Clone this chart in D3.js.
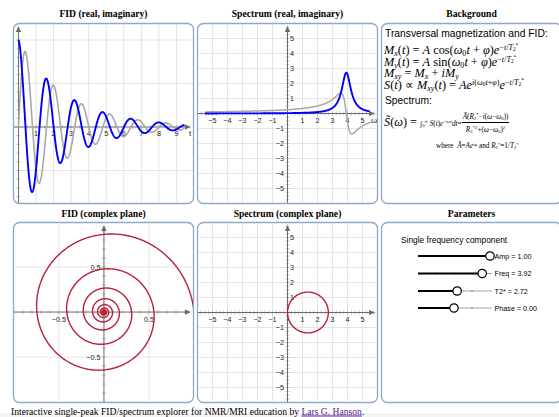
<!DOCTYPE html>
<html lang="en">
<head>
<meta charset="UTF-8">
<title>Single-peak FID / spectrum explorer</title>
<script src="https://cdn.jsdelivr.net/npm/d3@7"></script>
<style>
  html, body { margin: 0; padding: 0; background: #fff; overflow: hidden; }
  #page { position: relative; width: 559px; height: 417px; overflow: hidden; }
  #page svg { position: absolute; left: 0; top: 0; }
  .sans { position: absolute; font-family: "Liberation Sans", Arial, sans-serif; white-space: nowrap; line-height: 12px; }
  .math { position: absolute; font-family: "Liberation Serif", "Times New Roman", serif; font-size: 12.3px;
          white-space: nowrap; line-height: 11px; color: #000; }
  .math sub, .math sup { font-size: 0.66em; line-height: 0; position: relative; vertical-align: baseline; }
  .math sub { top: 0.22em; }
  .math sup { top: -0.5em; }
  .math .small { font-size: 7.2px; }
  .frac { display: inline-flex; flex-direction: column; align-items: center; vertical-align: middle; line-height: 8px; }
  .frac .num { border-bottom: 0.8px solid #000; padding: 0 1px 1.5px 1px; }
  .frac .den { padding-top: 2.5px; }
</style>
</head>
<body>
<div id="page">
  <svg id="chart" width="559" height="417"></svg>

  <!-- Background panel text -->
  <div class="sans" style="left:385px; top:28px; font-size:10.3px;">Transversal magnetization and FID:</div>
  <div class="math" style="left:384px; top:45px;"><i>M</i><sub><i>x</i></sub>(<i>t</i>) = <i>A</i> cos(<i>ω</i><sub>0</sub><i>t</i> + <i>φ</i>)<i>e</i><sup>−<i>t</i>/<i>T</i><sub>2</sub><sup>*</sup></sup></div>
  <div class="math" style="left:384px; top:57px;"><i>M</i><sub><i>y</i></sub>(<i>t</i>) = <i>A</i> sin(<i>ω</i><sub>0</sub><i>t</i> + <i>φ</i>)<i>e</i><sup>−<i>t</i>/<i>T</i><sub>2</sub><sup>*</sup></sup></div>
  <div class="math" style="left:384px; top:68px;"><i>M</i><sub><i>xy</i></sub> = <i>M</i><sub><i>x</i></sub> + <i>iM</i><sub><i>y</i></sub></div>
  <div class="math" style="left:384px; top:80px;"><i>S</i>(<i>t</i>) ∝ <i>M</i><sub><i>xy</i></sub>(<i>t</i>) = <i>Ae</i><sup><i>i</i>(<i>ω</i><sub>0</sub><i>t</i>+<i>φ</i>)</sup><i>e</i><sup>−<i>t</i>/<i>T</i><sub>2</sub><sup>*</sup></sup></div>
  <div class="sans" style="left:385px; top:95px; font-size:10.3px;">Spectrum:</div>
  <div class="math" style="left:384px; top:112.5px;"><i>S̃</i>(<i>ω</i>) = <span class="small">∫<sub>0</sub><sup>∞</sup> <i>S</i>(<i>t</i>)<i>e</i><sup>−<i>iωt</i></sup><i>dt</i>=</span><span class="frac small"><span class="num"><i>Ā</i>(<i>R</i><sub>2</sub><sup>*</sup>−<i>i</i>(<i>ω</i>−<i>ω</i><sub>0</sub>))</span><span class="den"><i>R</i><sub>2</sub><sup>*2</sup>+(<i>ω</i>−<i>ω</i><sub>0</sub>)<sup>2</sup></span></span></div>
  <div class="math small" style="left:436px; top:141px; font-size:7.2px;">where &nbsp;<i>Ā</i>=<i>Ae</i><sup><i>iφ</i></sup> and <i>R</i><sub>2</sub><sup>*</sup>=1/<i>T</i><sub>2</sub><sup>*</sup></div>
</div>

<script>
// ---- parameters shown in the "Parameters" panel ----
var paramNames  = ["Amp", "Freq", "T2*", "Phase"];
var paramValues = [1.00, 3.92, 2.72, 0.00];
var paramRanges = [[0, 1], [-5, 5], [0, 5], [-Math.PI, Math.PI]];

// ---- tick labels ----
var fidTicks      = [1, 2, 3, 4, 5, 6, 7, 8, 9];
var specTicks     = [-5, -4, -3, -2, -1, 1, 2, 3, 4, 5];
var cplxFidTicks  = [-0.5, 0.5];

var titles = [
  ["FID (real, imaginary)", "Spectrum (real, imaginary)", "Background"],
  ["FID (complex plane)", "Spectrum (complex plane)", "Parameters"]
];

var A = paramValues[0], w0 = paramValues[1], T2 = paramValues[2], phi = paramValues[3];
var R2 = 1 / T2;

// signal model (from the Background panel)
function fid(t) {
  var e = A * Math.exp(-t / T2);
  return { re: e * Math.cos(w0 * t + phi), im: e * Math.sin(w0 * t + phi) };
}
function spec(w) {
  var d = R2 * R2 + (w - w0) * (w - w0);
  var re0 = R2 / d, im0 = -(w - w0) / d;
  // multiply by A e^{i phi}
  return { re: A * (re0 * Math.cos(phi) - im0 * Math.sin(phi)),
           im: A * (re0 * Math.sin(phi) + im0 * Math.cos(phi)) };
}

var svg = d3.select("#chart");
var colX = [13, 197, 381], rowY = [23, 222], PW = 181, PH = 181;
var panelStroke = "#8ea7ca";
var serif = "'Liberation Serif', 'Times New Roman', serif";
var sans = "'Liberation Sans', Arial, sans-serif";

// scrollbar strip at the very bottom
svg.append("rect").attr("x", 0).attr("y", 413).attr("width", 559).attr("height", 4).attr("fill", "#f4f4f4");

// titles + panels
titles.forEach(function(row, r) {
  row.forEach(function(t, c) {
    svg.append("text")
      .attr("x", colX[c] + PW / 2).attr("y", r === 0 ? 17.3 : 216.8)
      .attr("text-anchor", "middle")
      .attr("font-family", serif).attr("font-weight", "bold").attr("font-size", 9.6)
      .text(t);
    svg.append("rect")
      .attr("x", colX[c] + 0.5).attr("y", rowY[r] + 0.5)
      .attr("width", PW - 1).attr("height", PH - 1)
      .attr("rx", 6).attr("ry", 6)
      .attr("fill", "#fff").attr("stroke", panelStroke).attr("stroke-width", 1.3);
    svg.append("clipPath").attr("id", "clip" + r + c)
      .append("rect").attr("x", colX[c] + 1).attr("y", rowY[r] + 1)
      .attr("width", PW - 2).attr("height", PH - 2).attr("rx", 5);
  });
});

// generic board: grid, axes with arrows, ticks, labels
function board(o) {
  var g = svg.append("g").attr("clip-path", "url(#" + o.clip + ")");
  var x = d3.scaleLinear().domain(o.xd).range([o.px, o.px + PW]);
  var y = d3.scaleLinear().domain(o.yd).range([o.py, o.py + PH]);
  var x0 = x(0), y0 = y(0);

  // grid
  o.gridX.forEach(function(v) {
    g.append("line").attr("x1", x(v)).attr("x2", x(v)).attr("y1", o.py).attr("y2", o.py + PH)
      .attr("stroke", "#e4e4e4").attr("stroke-width", 1);
  });
  o.gridY.forEach(function(v) {
    g.append("line").attr("y1", y(v)).attr("y2", y(v)).attr("x1", o.px).attr("x2", o.px + PW)
      .attr("stroke", "#e4e4e4").attr("stroke-width", 1);
  });

  // minor ticks
  d3.range(Math.ceil(o.xd[0] / o.minorX), Math.floor(o.xd[1] / o.minorX) + 1).forEach(function(k) {
    if (k === 0) return;
    var v = k * o.minorX;
    g.append("line").attr("x1", x(v)).attr("x2", x(v)).attr("y1", y0 - 2).attr("y2", y0 + 2)
      .attr("stroke", "#b8b8b8").attr("stroke-width", 0.8);
  });
  d3.range(Math.ceil(o.yd[1] / o.minorY), Math.floor(o.yd[0] / o.minorY) + 1).forEach(function(k) {
    if (k === 0) return;
    var v = k * o.minorY;
    g.append("line").attr("y1", y(v)).attr("y2", y(v)).attr("x1", x0 - 2).attr("x2", x0 + 2)
      .attr("stroke", "#b8b8b8").attr("stroke-width", 0.8);
  });

  // axes
  var axCol = "#6a6a6a";
  var xEnd = o.px + PW - 3, yEnd = o.py + 3;
  g.append("line").attr("x1", o.px).attr("x2", xEnd - 4).attr("y1", y0).attr("y2", y0)
    .attr("stroke", axCol).attr("stroke-width", 1);
  g.append("line").attr("x1", x0).attr("x2", x0).attr("y1", o.py + PH).attr("y2", yEnd + 4)
    .attr("stroke", axCol).attr("stroke-width", 1);
  g.append("path").attr("d", "M" + xEnd + "," + y0 + "l-6,-2.6l0,5.2z").attr("fill", axCol);
  g.append("path").attr("d", "M" + x0 + "," + yEnd + "l-2.6,6l5.2,0z").attr("fill", axCol);

  // tick labels
  o.xLabels.forEach(function(v) {
    g.append("text").attr("x", x(v)).attr("y", y0 + 9.5).attr("text-anchor", "middle")
      .attr("font-family", sans).attr("font-size", 7.2).attr("fill", "#222")
      .text(d3.format(o.fmt)(v).replace("-", "\u2212"));
  });
  o.yLabels.forEach(function(v) {
    var left = o.yLeft || v < 0;
    g.append("text").attr("x", left ? x0 - 3.5 : x0 + 2.5).attr("y", y(v) + 2.6)
      .attr("text-anchor", left ? "end" : "start")
      .attr("font-family", sans).attr("font-size", 7.2).attr("fill", "#222")
      .text(d3.format(o.fmt)(v).replace("-", "\u2212"));
  });
  if (o.axisName) {
    g.append("text").attr("x", xEnd - 1).attr("y", y0 + 9.5).attr("text-anchor", "middle")
      .attr("font-family", sans).attr("font-size", 8).attr("fill", "#222").text(o.axisName);
  }
  return { g: g, x: x, y: y };
}

// ---------- FID (real, imaginary) ----------
var b1 = board({
  clip: "clip00", px: colX[0], py: rowY[0],
  xd: [-0.31, 10.0], yd: [1.195, -0.885],
  gridX: d3.range(1, 11), gridY: [1, 0.5, -0.5],
  minorX: 0.5, minorY: 0.1,
  xLabels: fidTicks, yLabels: [], fmt: "d", axisName: "t"
});
var tS = d3.range(0, 9.46, 0.01).map(function(t) { var s = fid(t); return { t: t, re: s.re, im: s.im }; });
b1.g.append("path").datum(tS)
  .attr("d", d3.line().x(function(d) { return b1.x(d.t); }).y(function(d) { return b1.y(d.im); }))
  .attr("fill", "none").attr("stroke", "#a8a8a8").attr("stroke-width", 1.6);
b1.g.append("path").datum(tS)
  .attr("d", d3.line().x(function(d) { return b1.x(d.t); }).y(function(d) { return b1.y(d.re); }))
  .attr("fill", "none").attr("stroke", "#0000ff").attr("stroke-width", 1.9);

// ---------- Spectrum (real, imaginary) ----------
var b2 = board({
  clip: "clip01", px: colX[1], py: rowY[0],
  xd: [-6.03, 6.03], yd: [6.03, -6.03],
  gridX: d3.range(-6, 7), gridY: d3.range(-6, 7),
  minorX: 0.25, minorY: 0.25,
  xLabels: specTicks, yLabels: specTicks, fmt: "d", axisName: "\u03c9"
});
var wS = d3.range(-5.5, 5.62, 0.005).map(function(w) { var s = spec(w); return { w: w, re: s.re, im: s.im }; });
b2.g.append("path").datum(wS)
  .attr("d", d3.line().x(function(d) { return b2.x(d.w); }).y(function(d) { return b2.y(d.im); }))
  .attr("fill", "none").attr("stroke", "#a8a8a8").attr("stroke-width", 1.5);
b2.g.append("path").datum(wS.filter(function(d) { return d.w <= 5.48; }))
  .attr("d", d3.line().x(function(d) { return b2.x(d.w); }).y(function(d) { return b2.y(d.re); }))
  .attr("fill", "none").attr("stroke", "#0000ff").attr("stroke-width", 1.9);

// ---------- FID (complex plane) ----------
var b3 = board({
  clip: "clip10", px: colX[0], py: rowY[1],
  xd: [-1.01, 1.0], yd: [1.0, -1.01],
  gridX: [-0.5, 0.5], gridY: [-0.5, 0.5],
  minorX: 0.1, minorY: 0.1,
  xLabels: cplxFidTicks, yLabels: cplxFidTicks, fmt: ".1f", yLeft: true
});
var spiral = d3.range(0, 16, 0.004).map(fid);
b3.g.append("path").datum(spiral)
  .attr("d", d3.line().x(function(d) { return b3.x(d.re); }).y(function(d) { return b3.y(d.im); }))
  .attr("fill", "none").attr("stroke", "#b8213a").attr("stroke-width", 1.4);

// ---------- Spectrum (complex plane) ----------
var b4 = board({
  clip: "clip11", px: colX[1], py: rowY[1],
  xd: [-6.03, 6.03], yd: [6.03, -6.03],
  gridX: d3.range(-6, 7), gridY: d3.range(-6, 7),
  minorX: 0.25, minorY: 0.25,
  xLabels: specTicks, yLabels: specTicks, fmt: "d"
});
var circ = d3.range(-60, 60, 0.002).map(spec);
b4.g.append("path").datum(circ)
  .attr("d", d3.line().x(function(d) { return b4.x(d.re); }).y(function(d) { return b4.y(d.im); }))
  .attr("fill", "none").attr("stroke", "#b8213a").attr("stroke-width", 1.4);

// ---------- Parameters panel ----------
svg.append("text").attr("x", 401).attr("y", 243)
  .attr("font-family", sans).attr("font-size", 8.4).text("Single frequency component");

var sx0 = 418, sx1 = 490, sliderY = [256, 273.5, 291, 308];
paramNames.forEach(function(name, i) {
  var s = d3.scaleLinear().domain(paramRanges[i]).range([sx0, sx1]);
  var kx = s(paramValues[i]), yy = sliderY[i];
  var g = svg.append("g");
  g.append("line").attr("x1", sx0).attr("x2", sx1 + 2).attr("y1", yy).attr("y2", yy)
    .attr("stroke", "#9a9a9a").attr("stroke-width", 0.9);
  d3.range(1, 4).forEach(function(k) {
    var tx = sx0 + k * (sx1 - sx0) / 4;
    g.append("line").attr("x1", tx).attr("x2", tx).attr("y1", yy - 1).attr("y2", yy + 1)
      .attr("stroke", "#777").attr("stroke-width", 0.8);
  });
  g.append("line").attr("x1", sx0).attr("x2", kx).attr("y1", yy).attr("y2", yy)
    .attr("stroke", "#000").attr("stroke-width", 1.9);
  g.append("circle").attr("cx", kx).attr("cy", yy).attr("r", 4.2)
    .attr("fill", "#fff").attr("stroke", "#000").attr("stroke-width", 1.2);
  g.append("text").attr("x", 494.5).attr("y", yy + 2.5)
    .attr("font-family", sans).attr("font-size", 7.2)
    .text(name + " = " + paramValues[i].toFixed(2));
});

// ---------- footer ----------
var foot = svg.append("text").attr("x", 11).attr("y", 414.5)
  .attr("font-family", serif).attr("font-size", 9.6).attr("fill", "#000");
foot.append("tspan").text("Interactive single-peak FID/spectrum explorer for NMR/MRI education by ");
foot.append("tspan").attr("fill", "#551a8b").attr("text-decoration", "underline").text("Lars G. Hanson");
foot.append("tspan").text(".");
</script>
</body>
</html>
